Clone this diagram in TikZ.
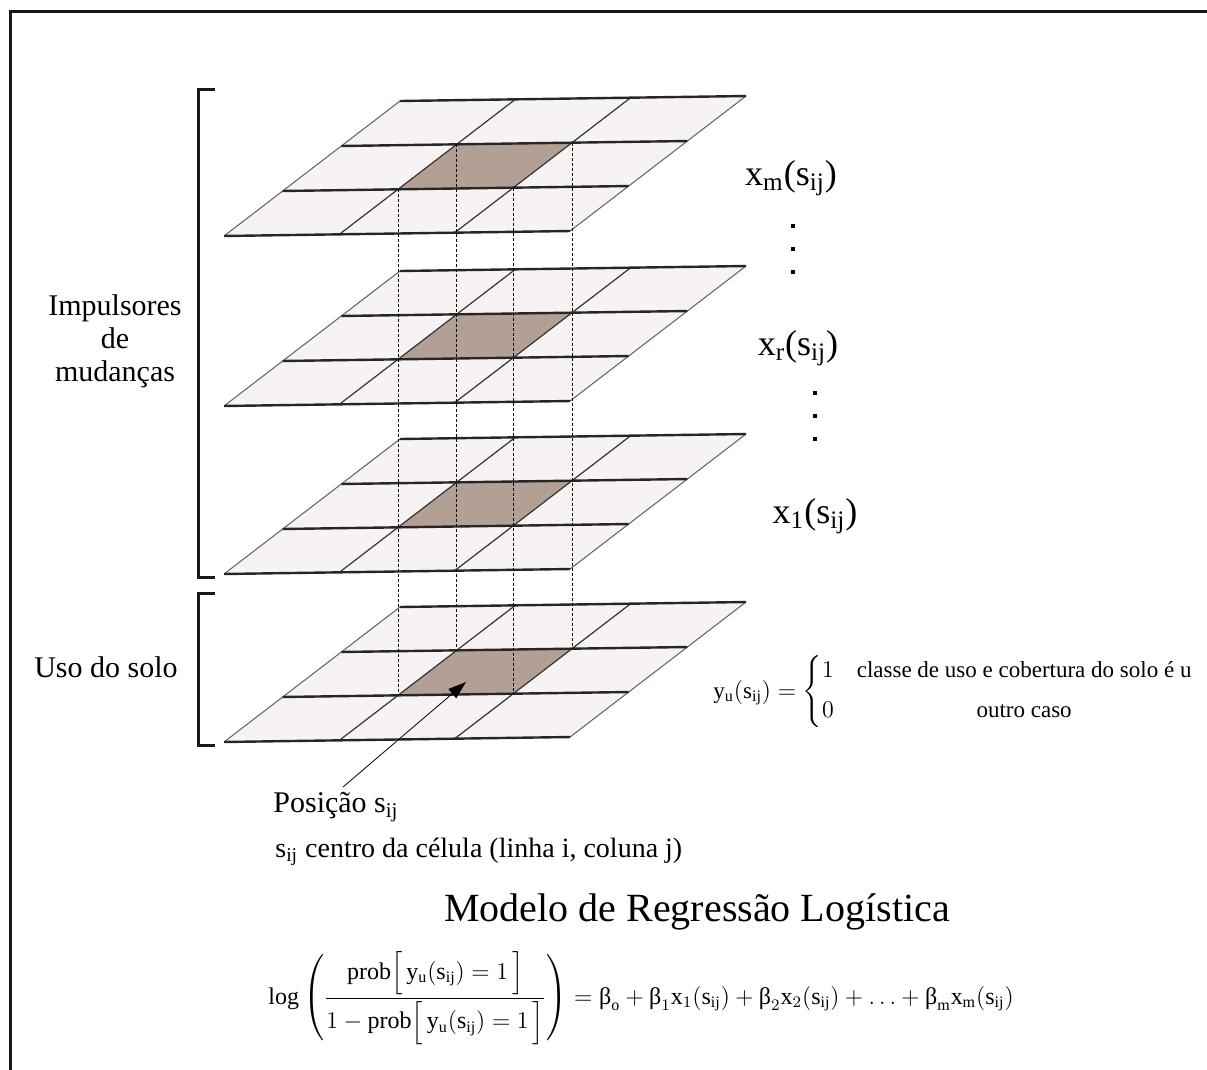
\documentclass[tikz,border=0pt]{standalone}
\usepackage{amsmath}
\usepackage{fontspec}
\setmainfont{Liberation Serif}
\usetikzlibrary{arrows.meta,positioning}

\definecolor{cellfill}{RGB}{248,243,243}
\definecolor{cellshade}{RGB}{178,160,148}
\definecolor{edgegray}{RGB}{95,95,95}

\newcommand{\sij}{\mathrm{s}_{\mathrm{ij}}}
\newcommand{\bt}{\text{β}}

% one 3x3 raster layer: name, y of back-left corner
\newcommand{\gridlayer}[2]{%
  \begin{scope}[shift={(400,#2)}, x={(57.67pt,0.83pt)}, y={(-29.33pt,-22.5pt)}]
    \fill[cellfill] (0,0) -- (3,0) -- (3,3) -- (0,3) -- cycle;
    \fill[cellshade] (1,1) -- (2,1) -- (2,2) -- (1,2) -- cycle;
    \foreach \i in {1,2} \draw[inner] (\i,0) -- (\i,3);
    \draw[side] (0,0) -- (0,3) (3,0) -- (3,3);
    \foreach \j in {0,...,3} \draw[rim] (0,\j) -- (3,\j);
    \coordinate (#1-bl) at (1,1);
    \coordinate (#1-br) at (2,1);
    \coordinate (#1-fl) at (1,2);
    \coordinate (#1-fr) at (2,2);
    \coordinate (#1-c) at (1.5,1.5);
  \end{scope}}

\begin{document}
\begin{tikzpicture}[
  x=0.5pt, y=-0.5pt,
  lbl/.style={inner sep=0pt, font=\fontsize{15}{16.5}\selectfont},
  var/.style={inner sep=0pt, font=\fontsize{18}{20}\selectfont},
  frame/.style={line width=1.5pt, color=black!90},
  brace/.style={line width=1.5pt, color=black!90},
  rim/.style={line width=1.2pt, color=black!85},
  inner/.style={line width=0.6pt, color=black!80},
  side/.style={line width=0.5pt, color=edgegray},
  guide/.style={line width=0.4pt, dash pattern=on 1.5pt off 1pt},
  pointer/.style={line width=0.4pt, -{Triangle[length=9pt,width=6pt]}}
]
\useasboundingbox (0,0) rectangle (1207,1070);
\draw[frame] (10,1080) -- (10,12) -- (1220,12);

% layers
\foreach \n/\y in {m/101, r/271, one/439, solo/607} \gridlayer{\n}{\y};
\foreach \c in {bl,br,fl,fr} \draw[guide] (m-\c) -- (solo-\c);

% brackets
\draw[brace] (215,90) -- (198,90) -- (198,577) -- (215,577);
\draw[brace] (215,593) -- (198,593) -- (198,745) -- (215,745);
\node[lbl, align=center] (drivers) at (115,341) {Impulsores\\de\\mudanças};
\node[lbl] (landuse) at (106,667) {Uso do solo};

% variables
\node[var] (xm) at (791,178) {x\textsubscript{m}(s\textsubscript{ij})};
\node[var] (xr) at (798,348) {x\textsubscript{r}(s\textsubscript{ij})};
\node[var] (xone) at (815,516) {x\textsubscript{1}(s\textsubscript{ij})};
\foreach \k in {0,1,2} {
  \fill (791,224+23*\k) rectangle +(4,4);
  \fill (813,391+23*\k) rectangle +(4,4);
}

% response
\node[inner sep=0pt, anchor=west, font=\fontsize{11.5}{13}\selectfont] (yu) at (713,692)
  {$\mathrm{y}_{\mathrm{u}}(\sij)=\left\{\begin{array}{@{}l@{\quad}c@{}}1 & \text{classe de uso e cobertura do solo é u}\\[7pt] 0 & \text{outro caso}\end{array}\right.$};

% position
\coordinate (tip) at (466,682);
\coordinate (tail) at (343,787);
\draw[pointer] (tail) -- (tip);
\node[lbl, anchor=west] (pos) at (273,807) {Posição s\textsubscript{ij}};
\node[lbl, anchor=west, font=\fontsize{14}{16}\selectfont] (centre) at (275,852) {s\textsubscript{ij} centro da célula (linha i, coluna j)};

% model
\node[inner sep=0pt, font=\fontsize{20}{22}\selectfont] (title) at (697,912) {Modelo de Regressão Logística};
\node[inner sep=0pt, anchor=west, font=\fontsize{12}{14}\selectfont] (model) at (268,998)
  {$\log\left(\dfrac{\mathrm{prob}\Big[\,\mathrm{y}_{\mathrm{u}}(\sij)=1\,\Big]}{1-\mathrm{prob}\Big[\,\mathrm{y}_{\mathrm{u}}(\sij)=1\,\Big]}\right)=\bt_{\mathrm{o}}+\bt_{1}\mathrm{x}_{1}(\sij)+\bt_{2}\mathrm{x}_{2}(\sij)+\ldots+\bt_{\mathrm{m}}\mathrm{x}_{\mathrm{m}}(\sij)$};
\end{tikzpicture}
\end{document}
